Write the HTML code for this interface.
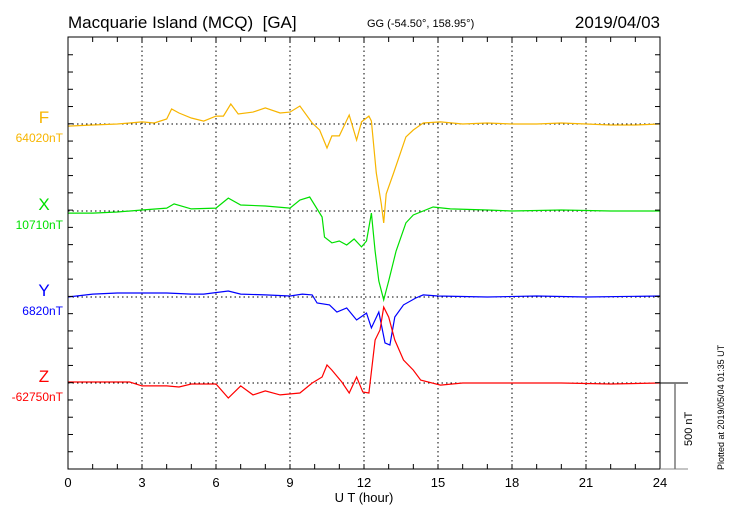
<!DOCTYPE html>
<html><head><meta charset="utf-8"><style>
body{margin:0;background:#fff;}
svg{display:block;font-family:"Liberation Sans",sans-serif;}
</style></head><body>
<svg id="chart" width="730" height="520">
<text x="68" y="28" font-size="17">Macquarie Island (MCQ)&#160;&#160;[GA]</text>
<text x="367" y="27" font-size="11">GG (-54.50°, 158.95°)</text>
<text x="660" y="28" font-size="17" text-anchor="end">2019/04/03</text>
<text x="364" y="502" font-size="13" text-anchor="middle">U T (hour)</text>
<text transform="translate(724,470) rotate(-90)" font-size="9">Plotted at 2019/05/04 01:35 UT</text>
<text transform="translate(692,446) rotate(-90)" font-size="11">500 nT</text>
<g id="grid"></g><g id="series"></g><g id="axes"></g>
</svg>
<script>
const fHours=[0,1,2,2.5,3,3.5,4,4.2,4.5,5,5.5,6,6.3,6.6,6.9,7.5,8,8.6,9,9.4,9.9,10.2,10.5,10.7,11,11.4,11.7,11.9,12.2,12.3,12.5,12.7,12.8,12.9,13.2,13.7,14,14.4,15.1,16,17,18,19,20,21,22,23,24];
const fValues=[-12,-6,0,6,12,6,29,87,64,35,17,46,46,116,58,69,93,64,69,104,6,-35,-139,-69,-69,52,-93,12,46,17,-284,-463,-573,-405,-284,-75,-35,6,12,0,6,0,0,6,0,-6,-6,0];
const xHours=[0,1,2,3,4,4.3,5,6,6.5,7,8,9,9.4,9.8,10.3,10.4,10.7,11,11.3,11.6,11.9,12.1,12.3,12.45,12.6,12.8,13,13.3,13.7,14,14.8,15.5,17,18,20,22,24];
const xValues=[-12,-12,-6,6,17,41,12,17,75,35,29,17,64,81,-35,-151,-185,-174,-197,-162,-208,-174,-12,-232,-405,-515,-405,-232,-69,-23,23,12,6,0,6,0,0];
const yHours=[0,1,2,3,4,5,5.5,6.5,7,8,9,9.5,9.9,10.1,10.6,10.9,11.3,11.7,12.1,12.3,12.6,12.85,13.05,13.25,13.6,14.1,14.4,15,17,19,21,24];
const yValues=[0,17,23,23,23,17,17,35,17,12,6,17,12,-35,-46,-87,-64,-133,-93,-179,-87,-266,-278,-116,-46,-6,12,6,0,6,0,6];
const zHours=[0,2,2.5,3,4,4.5,5,6,6.5,7,7.5,8,8.6,9.4,9.9,10.3,10.5,10.7,11.1,11.4,11.7,11.95,12.2,12.45,12.65,12.8,13,13.25,13.6,14,14.3,15.1,16,18,20,22,24];
const zValues=[6,6,6,-17,-17,-23,-6,-6,-87,-17,-69,-46,-69,-58,0,35,104,75,6,-58,35,-52,-58,249,307,440,382,249,133,75,17,-12,0,0,0,-6,0];
const seriesNames=["F","X","Y","Z"];
const baseLabels=["64020nT","10710nT","6820nT","-62750nT"];
const xTicks=[0,3,6,9,12,15,18,21,24];

const L=68,R=660,T=37,B=469,PXNT=86.3/500;
const bases=[124,211,297,383];
const colors=["#f7b500","#00e000","#0000ff","#ff0000"];
const xs=h=>L+(h/24)*(R-L);
const ys=(i,v)=>bases[i]-v*PXNT;
const NS="http://www.w3.org/2000/svg";
function mk(tag,attrs,parent){const e=document.createElementNS(NS,tag);for(const k in attrs)e.setAttribute(k,attrs[k]);parent.appendChild(e);return e;}
const grid=document.getElementById('grid'),axes=document.getElementById('axes'),ser=document.getElementById('series');
xTicks.slice(1,-1).forEach(h=>{const l=mk('line',{x1:xs(h),x2:xs(h),y1:T,y2:B,stroke:'#000','stroke-dasharray':'1.5,3','stroke-width':1},grid);

});
bases.forEach((b,i)=>{const l=mk('line',{x1:L,x2:R,y1:b,y2:b,stroke:'#000','stroke-dasharray':'1.5,3','stroke-width':1},grid);

});
const data=[[fHours,fValues],[xHours,xValues],[yHours,yValues],[zHours,zValues]];
data.forEach((d,i)=>{const pts=d[0].map((h,j)=>xs(h).toFixed(1)+','+ys(i,d[1][j]).toFixed(1)).join(' ');
const p=mk('polyline',{points:pts,fill:'none',stroke:colors[i],'stroke-width':1.2},ser);


const t=mk('text',{x:44,y:bases[i]-1,'font-size':17,fill:colors[i],'text-anchor':'middle'},ser);t.textContent=seriesNames[i];


const t2=mk('text',{x:63,y:bases[i]+18,'font-size':12,fill:colors[i],'text-anchor':'end'},ser);t2.textContent=baseLabels[i];

});
const frame=mk('rect',{x:L,y:T,width:R-L,height:B-T,fill:'none',stroke:'#000','stroke-width':1},axes);


for(let h=1;h<24;h++){mk('line',{x1:xs(h),x2:xs(h),y1:T,y2:T+5,stroke:'#000'},axes);mk('line',{x1:xs(h),x2:xs(h),y1:B,y2:B-5,stroke:'#000'},axes);}
for(let k=1;k<25;k++){const y=B-k*100*PXNT;if(y>T+2){mk('line',{x1:L,x2:L+5,y1:y,y2:y,stroke:'#000'},axes);mk('line',{x1:R,x2:R-5,y1:y,y2:y,stroke:'#000'},axes);}}
xTicks.forEach(h=>{const t=mk('text',{x:xs(h),y:487,'font-size':13,'text-anchor':'middle'},axes);t.textContent=h;

});
const sb=mk('g',{},axes);


mk('line',{x1:R,x2:688,y1:383,y2:383,stroke:'#000'},sb);
mk('line',{x1:R,x2:688,y1:B,y2:B,stroke:'#888'},sb);
mk('line',{x1:675,x2:675,y1:383,y2:B,stroke:'#777','stroke-width':1.5},sb);
</script>
</body></html>
